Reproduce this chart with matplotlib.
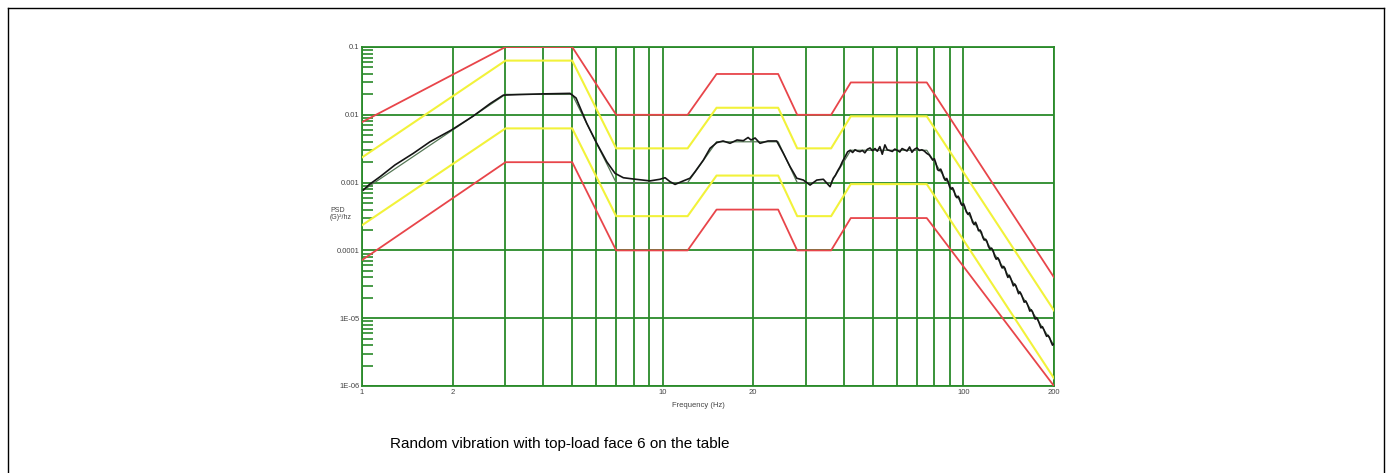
import matplotlib
matplotlib.use("Agg")
import matplotlib.pyplot as plt
from matplotlib.lines import Line2D
from matplotlib.ticker import FixedLocator, NullFormatter

# Profilfrekvenser (Hz) - gemensamma brytpunkter for profil och toleranser
prof_freq = [1, 3, 5, 7, 12.1, 15.1, 24.2, 28, 36.3, 42.2, 75.5, 200]

# Referensprofil och toleransband (G^2/Hz)
ref_psd = [0.00075, 0.02, 0.02, 0.001, 0.001, 0.004, 0.004, 0.001, 0.001, 0.003, 0.003, 4.0e-6]
abort_hi = [0.0078, 0.1, 0.1, 0.01, 0.01, 0.04, 0.04, 0.01, 0.01, 0.03, 0.03, 4.0e-5]
alarm_hi = [0.00235, 0.063, 0.063, 0.0032, 0.0032, 0.0127, 0.0127, 0.0032, 0.0032, 0.0095, 0.0095, 1.3e-5]
alarm_lo = [0.000235, 0.0063, 0.0063, 0.00032, 0.00032, 0.00127, 0.00127, 0.00032, 0.00032, 0.00095, 0.00095, 1.3e-6]
abort_lo = [7.2e-5, 0.002, 0.002, 0.0001, 0.0001, 0.0004, 0.0004, 0.0001, 0.0001, 0.0003, 0.0003, 1.0e-6]

# Uppmatt PSD (avlast fran bilden)
meas_freq = [1.01, 1.063, 1.148, 1.287, 1.481, 1.683, 1.988, 2.345, 2.666, 2.951,
             3.353, 3.908, 4.555, 4.917, 5.149, 5.588, 6.033, 6.515, 6.94, 7.396,
             7.984, 9.074, 9.795, 10.18, 10.58, 10.99, 11.71, 12.32, 12.81, 13.65,
             14.37, 15.12, 15.87, 16.74, 17.67, 18.54, 19.22, 19.66, 20.28, 21.06,
             22.39, 23.93, 25.18, 26.51, 27.9, 29.35, 30.9, 32.52, 34.2, 36.0,
             36.9, 37.5, 38.2, 38.9, 39.6, 40.4, 41.2, 42.0, 42.8, 43.6,
             44.4, 45.3, 46.1, 47.0, 47.9, 48.9, 49.8, 50.8, 51.7, 52.7,
             53.7, 54.8, 55.8, 56.9, 58.0, 59.1, 60.2, 61.4, 62.5, 63.7,
             64.9, 66.2, 67.4, 68.7, 70.0, 71.4, 72.7, 74.1, 75.5, 77.0,
             79, 80, 81, 82, 83, 84, 85, 86, 87, 88,
             89, 90, 91, 92, 93, 94, 95, 96, 97, 98,
             99, 100, 101, 102.2, 103.5, 104.7, 106, 107.2, 108.5, 109.7,
             111, 112.2, 113.5, 114.7, 116, 117.2, 118.5, 119.7, 121, 122.5,
             124, 125.5, 127, 128.5, 130, 131.5, 133, 134.5, 136, 137.5,
             139, 140.5, 142, 143.5, 145, 146.5, 148, 149.5, 151, 152.5,
             154, 155.7, 157.5, 159.2, 161, 162.7, 164.5, 166.2, 168, 169.7,
             171.5, 173.2, 175, 177, 179, 181, 183, 185, 187, 189,
             191, 193.2, 195.5, 197.7, 200]
meas_psd = [0.000778, 0.000953, 0.00122, 0.00182, 0.0027, 0.0040, 0.0060, 0.0096, 0.0146, 0.0195,
            0.0199, 0.0203, 0.0206, 0.0207, 0.0177, 0.0075, 0.0038, 0.00203, 0.00137, 0.00118,
            0.00113, 0.00106, 0.00112, 0.00118, 0.00103, 0.00094, 0.00106, 0.00116, 0.00145, 0.00215,
            0.00321, 0.00388, 0.00411, 0.0038, 0.00425, 0.00415, 0.00463, 0.00425, 0.00455, 0.0038,
            0.00411, 0.00411, 0.0027, 0.00172, 0.00116, 0.00109, 0.00092, 0.00109, 0.00112, 0.00087,
            0.00116, 0.00128, 0.00150, 0.00172, 0.00205, 0.00241, 0.00285, 0.00300, 0.00278, 0.00305,
            0.00292, 0.00286, 0.00298, 0.00275, 0.00310, 0.00324, 0.00296, 0.00318, 0.00290, 0.00339,
            0.00262, 0.00360, 0.00305, 0.00296, 0.00288, 0.00312, 0.00300, 0.00283, 0.00318, 0.00305,
            0.00292, 0.00335, 0.00280, 0.00310, 0.00325, 0.00298, 0.00305, 0.00292, 0.00270, 0.00255,
            0.00215, 0.00225, 0.00192, 0.00155, 0.00150, 0.00158, 0.00140, 0.00118, 0.00108, 0.00115,
            0.00102, 0.00086, 0.00080, 0.00084, 0.00076, 0.00064, 0.00060, 0.00063, 0.00058, 0.00049,
            0.00046, 0.00049, 0.00044, 0.00037, 0.00034, 0.00036, 0.00031, 0.00026, 0.00024, 0.00026,
            0.00023, 0.000195, 0.00020, 0.000185, 0.000155, 0.000142, 0.000146, 0.000136, 0.000115, 0.000104,
            0.000108, 9.9e-5, 8.2e-5, 7.4e-5, 7.8e-5, 7.2e-5, 6.1e-5, 5.5e-5, 5.8e-5, 5.4e-5,
            4.5e-5, 4.0e-5, 4.3e-5, 3.9e-5, 3.4e-5, 3.0e-5, 3.2e-5, 3.0e-5, 2.6e-5, 2.3e-5,
            2.45e-5, 2.25e-5, 1.95e-5, 1.72e-5, 1.80e-5, 1.65e-5, 1.45e-5, 1.27e-5, 1.33e-5, 1.24e-5,
            1.08e-5, 9.7e-6, 1.02e-5, 9.4e-6, 8.2e-6, 7.2e-6, 7.5e-6, 6.8e-6, 6.0e-6, 5.4e-6,
            5.6e-6, 5.2e-6, 4.5e-6, 4.0e-6, 4.2e-6]

# Axlar
x_ticks = [1, 2, 10, 20, 100, 200]
x_ticklabels = ["1", "2", "10", "20", "100", "200"]
x_grid = [3, 4, 5, 6, 7, 8, 9, 30, 40, 50, 60, 70, 80, 90]
y_ticks = [1e-6, 1e-5, 1e-4, 1e-3, 1e-2, 1e-1]
y_ticklabels = ["1E-06", "1E-05", "0.0001", "0.001", "0.01", "0.1"]

W, H = 1392, 473
grid_col = "#2a8a2a"
red = "#e8454a"
yellow = "#f2f23a"

fig = plt.figure(figsize=(W / 100, H / 100), dpi=100)
plt.rcParams['font.family'] = ['Liberation Sans', 'DejaVu Sans']
ax = fig.add_axes([362 / W, 1 - 386 / H, (1054 - 362) / W, (386 - 47) / H])

ax.plot(prof_freq, abort_hi, color=red, lw=1.3, zorder=3)
ax.plot(prof_freq, abort_lo, color=red, lw=1.3, zorder=3)
ax.plot(prof_freq, alarm_hi, color=yellow, lw=1.5, zorder=3)
ax.plot(prof_freq, alarm_lo, color=yellow, lw=1.5, zorder=3)
ax.plot(prof_freq, ref_psd, color="#557755", lw=0.9, zorder=4)
ax.plot(meas_freq, meas_psd, color="#151515", lw=1.2, zorder=5)

ax.set_xscale("log")
ax.set_yscale("log")
ax.set_xlim(1, 200)
ax.set_ylim(1e-6, 0.1)

ax.set_xticks(x_ticks)
ax.set_xticklabels(x_ticklabels)
ax.xaxis.set_minor_locator(FixedLocator(x_grid))
ax.xaxis.set_minor_formatter(NullFormatter())
ax.set_yticks(y_ticks)
ax.set_yticklabels(y_ticklabels)

ax.tick_params(axis="both", which="major", length=0, labelsize=5.5, labelcolor="#444444", pad=2)
ax.tick_params(axis="x", which="minor", length=0)
ax.tick_params(axis="y", which="minor", direction="in", length=8, width=1.2, color=grid_col)

ax.grid(True, which="major", color=grid_col, lw=1.3, zorder=1)
ax.grid(True, which="minor", axis="x", color=grid_col, lw=1.3, zorder=1)
ax.set_axisbelow(True)
for s in ax.spines.values():
    s.set_color(grid_col)
    s.set_linewidth(1.3)

fig.text(330 / W, 1 - 214 / H, "PSD\n(G)²/hz", fontsize=5, color="#444444",
         ha="left", va="center", linespacing=1.1)
fig.text(698 / W, 1 - 405 / H, "Frequency (Hz)", fontsize=5.5, color="#444444",
         ha="center", va="center")
fig.text(560 / W, 1 - 444 / H, "Random vibration with top-load face 6 on the table",
         fontsize=11, color="black", ha="center", va="center")

# Ram runt hela bilden
for xs, ys in [([8, 1384], [8, 8]), ([8, 8], [8, 480]), ([1384, 1384], [8, 480])]:
    fig.add_artist(Line2D([x / W for x in xs], [1 - y / H for y in ys], color="black", lw=1.0))

fig.savefig("out.png", dpi=100)
